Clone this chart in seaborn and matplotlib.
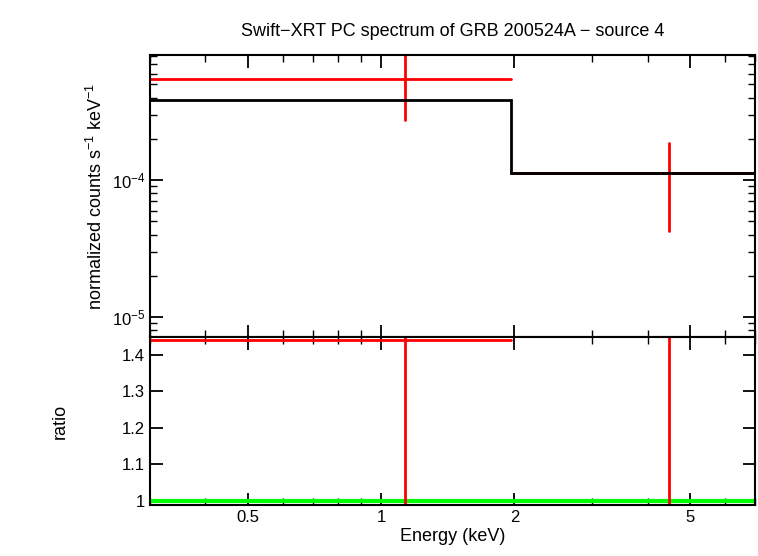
import matplotlib
matplotlib.use("Agg")
import matplotlib.pyplot as plt
import seaborn as sns
import numpy as np
from matplotlib.ticker import FixedLocator, NullFormatter

# data
energy = [1.13, 4.47]
e_lo = [0.3, 1.96]
e_hi = [1.96, 7.0]
counts = [5.46e-4, 1.12e-4]
cnt_lo = [2.74e-4, 4.25e-5]
cnt_hi = [9.0e-4, 1.86e-4]
model_edges = [0.3, 1.96, 7.0]
model_vals = [3.84e-4, 1.125e-4]
ratio = [1.44, 1.6]
ratio_lo = [0.9, 0.9]
ratio_hi = [1.6, 1.6]

sns.set_style("ticks")
plt.rcParams["font.family"] = "Liberation Sans"
plt.rcParams["text.color"] = "black"
plt.rcParams["axes.labelcolor"] = "black"
plt.rcParams["xtick.color"] = "black"
plt.rcParams["ytick.color"] = "black"
plt.rcParams["mathtext.fontset"] = "custom"
plt.rcParams["mathtext.rm"] = "Liberation Sans"

fig = plt.figure(figsize=(7.58, 5.56), dpi=100)
ax1 = fig.add_axes([150/758, 1-337/556, 605/758, 282/556])
ax2 = fig.add_axes([150/758, 1-505/556, 605/758, 168/556], sharex=ax1)

lw = 2
for i in range(2):
    ax1.plot([e_lo[i], e_hi[i]], [counts[i]] * 2, color="red", lw=lw, zorder=2)
    ax1.plot([energy[i]] * 2, [cnt_lo[i], cnt_hi[i]], color="red", lw=lw, zorder=2)
ax1.stairs(model_vals, model_edges, color="black", lw=lw, baseline=None, zorder=3)
ax1.set_xscale("log"); ax1.set_yscale("log")
ax1.set_xlim(0.3, 7.0)
ax1.set_ylim(7.15e-6, 8.2e-4)
ax1.set_ylabel("normalized counts s$^{-1}$ keV$^{-1}$", fontsize=13)
ax1.set_title("Swift\u2212XRT PC spectrum of GRB 200524A \u2212 source 4", fontsize=13, pad=14)
ax1.tick_params(labelbottom=False)

ax2.axhline(1.0, color="#00ff00", lw=3)
ax2.plot([e_lo[0], e_hi[0]], [ratio[0]] * 2, color="red", lw=lw)
for i in range(2):
    ax2.plot([energy[i]] * 2, [ratio_lo[i], ratio_hi[i]], color="red", lw=lw)
ax2.set_ylim(0.989, 1.449)
ax2.set_yticks([1, 1.1, 1.2, 1.3, 1.4])
ax2.set_yticklabels(["1", "1.1", "1.2", "1.3", "1.4"])
ax2.set_ylabel("ratio", fontsize=13, labelpad=38)
ax2.set_xlabel("Energy (keV)", fontsize=13, labelpad=2)
ax2.xaxis.set_major_locator(FixedLocator([0.5, 1, 2, 5]))
ax2.set_xticklabels(["0.5", "1", "2", "5"])
ax2.xaxis.set_minor_locator(FixedLocator([0.3, 0.4, 0.6, 0.7, 0.8, 0.9, 3, 4, 6, 7]))
ax2.xaxis.set_minor_formatter(NullFormatter())

for ax in (ax1, ax2):
    for s in ax.spines.values():
        s.set_linewidth(1.5); s.set_color("black")
    ax.tick_params(which="both", direction="in", top=True, right=True, labelsize=12)
    ax.tick_params(which="major", length=9, width=1.3)
    ax.tick_params(which="minor", length=5, width=1.0)

fig.savefig("out.png", dpi=100)
